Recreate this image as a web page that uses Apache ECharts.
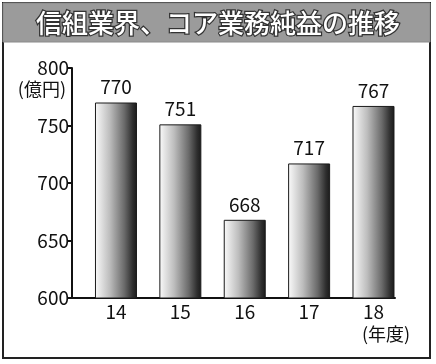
<!DOCTYPE html>
<html>
<head>
<meta charset="utf-8">
<script src="https://cdn.jsdelivr.net/npm/echarts@6/dist/echarts.min.js"></script>
<style>
  html, body {margin: 0; padding: 0; background: #fff;}
  #main {width: 436px; height: 364px;}
</style>
</head>
<body>
<div id="main"></div>
<script>
// data
const years = ['14', '15', '16', '17', '18'];
const values = [770, 751, 668, 717, 767];
const yTicks = [600, 650, 700, 750, 800];
const titleText = '信組業界、コア業務純益の推移';
const unitText = '(億円)';
const yearText = '(年度)';

const fontJP = '"Noto Sans CJK JP", "Noto Sans", sans-serif';

var chartDom = document.getElementById('main');
var myChart = echarts.init(chartDom, null, {renderer: 'canvas'});

var barData = values.map((v, i) => [i, v]);

var barFill = new echarts.graphic.LinearGradient(0, 0, 1, 0, [
  {offset: 0, color: '#fbfbfb'},
  {offset: 0.35, color: '#bdbdbd'},
  {offset: 0.7, color: '#6a6a6a'},
  {offset: 0.9, color: '#2e2e2e'},
  {offset: 1, color: '#1a1a1a'}
]);

var option = {
  animation: false,
  backgroundColor: '#fff',
  grid: {left: 72, right: 41, top: 68, bottom: 66},
  xAxis: {
    type: 'value', min: -0.683, max: 4.334,
    axisLine: {show: true, onZero: false, lineStyle: {color: '#111', width: 2}},
    axisTick: {show: false},
    splitLine: {show: false},
    axisLabel: {
      customValues: [0, 1, 2, 3, 4],
      formatter: v => years[Math.round(v)],
      color: '#111', fontSize: 19, fontFamily: fontJP, margin: 4
    }
  },
  yAxis: {
    type: 'value', min: yTicks[0], max: yTicks[yTicks.length - 1], interval: 50,
    axisLine: {show: true, onZero: false, lineStyle: {color: '#111', width: 2}},
    axisTick: {show: true, length: 5, lineStyle: {color: '#111', width: 2}},
    splitLine: {show: false},
    axisLabel: {color: '#111', fontSize: 19, fontFamily: fontJP, margin: 3}
  },
  series: [{
    type: 'bar',
    data: barData,
    barWidth: 42,
    itemStyle: {color: barFill, borderColor: '#1a1a1a', borderWidth: 1},
    label: {
      show: true, position: 'top', distance: 6,
      formatter: p => p.value[1],
      color: '#111', fontSize: 19, fontFamily: fontJP
    }
  }],
  graphic: [
    {type: 'rect', shape: {x: 3, y: 3, width: 427, height: 355}, style: {fill: 'none', stroke: '#222', lineWidth: 2}, z: 100},
    {type: 'rect', shape: {x: 3, y: 3, width: 427, height: 39}, style: {fill: '#9b9b9b', stroke: '#8a8a8a', lineWidth: 1}, z: 101},
    {type: 'text', x: 218, y: 23, z: 102,
      style: {text: titleText, fill: '#fff', stroke: '#333', lineWidth: 2.5, font: '500 26px ' + fontJP, align: 'center', verticalAlign: 'middle'}},
    {type: 'text', x: 66, y: 89, z: 102,
      style: {text: unitText, fill: '#111', font: '18px ' + fontJP, align: 'right', verticalAlign: 'middle'}},
    {type: 'text', x: 386, y: 334, z: 102,
      style: {text: yearText, fill: '#111', font: '18px ' + fontJP, align: 'center', verticalAlign: 'middle'}}
  ]
};

option && myChart.setOption(option);
</script>
</body>
</html>
